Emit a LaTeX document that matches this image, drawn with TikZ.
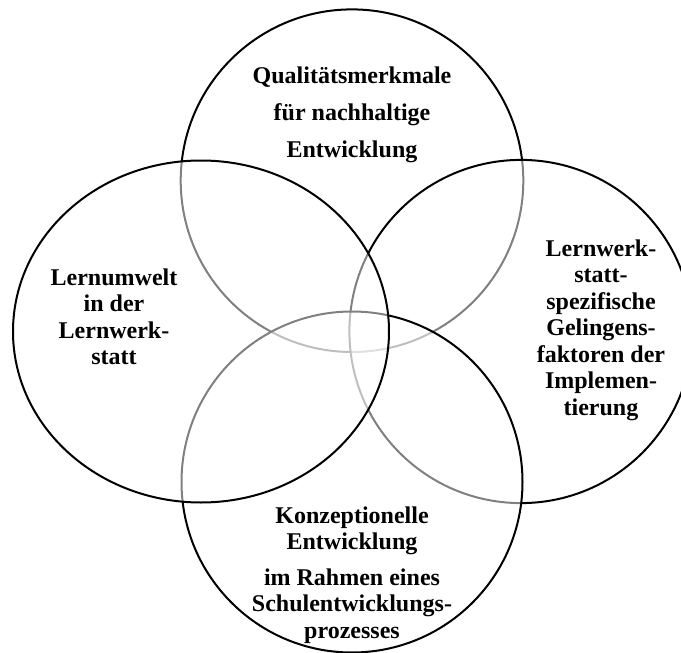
\documentclass[tikz,border=0pt]{standalone}
\usepackage{fontspec}
\setmainfont{Liberation Serif}
\usetikzlibrary{positioning}
\tikzstyle{every picture}+=[x=1pt,y=-1pt]
\tikzstyle{kreis}=[draw=black,line width=2pt,fill=white,fill opacity=0.5]
\tikzstyle{etikett}=[align=center,inner sep=0pt,font=\bfseries\fontsize{24}{26.5}\selectfont]

\begin{document}
\begin{tikzpicture}
\useasboundingbox (0,0) rectangle (681,653);
\clip (0,0) rectangle (681,653);
% Kreise, von unten nach oben
\draw[kreis] (352,180.7) circle [radius=171.3pt];
\draw[kreis] (521,331.5) circle [radius=171.6pt];
\draw[kreis] (352,482) circle [radius=170.5pt];
\draw[kreis] (201,331.5) ellipse [x radius=188pt,y radius=171pt];
% Beschriftungen
\node[etikett,font=\bfseries\fontsize{24}{37}\selectfont] (qualitaet) at (352,115)
  {Qualitätsmerkmale\\für nachhaltige\\Entwicklung};
\node[etikett] (lernumwelt) at (114,317)
  {Lernumwelt\\in der\\Lernwerk-\\statt};
\node[etikett] (faktoren) at (601,330)
  {Lernwerk-\\statt-\\spezifische\\Gelingens-\\faktoren der\\Implemen-\\tierung};
\node[etikett] (konzeption) at (352,575)
  {Konzeptionelle\\Entwicklung\\[9pt]im Rahmen eines\\Schulentwicklungs-\\prozesses};
\end{tikzpicture}
\end{document}
